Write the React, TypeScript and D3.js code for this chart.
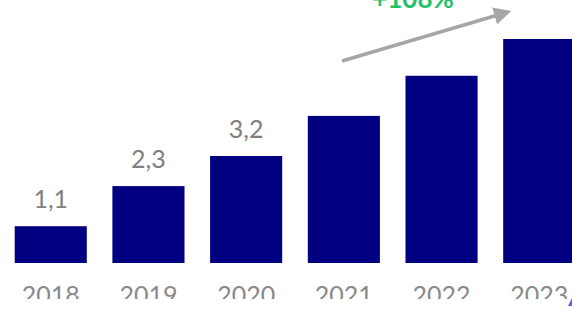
import * as d3 from "d3";
import { useEffect, useRef } from "react";

const years = ["2018", "2019", "2020", "2021", "2022", "2023"];
const values = [1.1, 2.3, 3.2, 4.4, 5.6, 6.7];
const valueLabels = ["1,1", "2,3", "3,2", "", "", ""];
const growthLabel = "+108%";

const W = 572;
const H = 313;

const App = () => {
  const svgRef = useRef(null);

  useEffect(() => {
    const svg = d3.select(svgRef.current);
    svg.selectAll("*").remove();

    const x = d3.scaleBand().domain(years).range([2, 588]).paddingInner(0.262).paddingOuter(0.13);
    const y = d3.scaleLinear().domain([0, 6.7]).range([263, 39]);

    svg.append("defs").append("clipPath").attr("id", "cut")
      .append("rect").attr("x", 0).attr("y", 0).attr("width", W).attr("height", 299);

    svg.append("g").selectAll("rect").data(years).join("rect")
      .attr("x", d => x(d))
      .attr("y", (d, i) => y(values[i]))
      .attr("width", x.bandwidth())
      .attr("height", (d, i) => y(0) - y(values[i]))
      .attr("fill", "#000080");

    svg.append("g").selectAll("text").data(years).join("text")
      .attr("x", d => x(d) + x.bandwidth() / 2)
      .attr("y", (d, i) => y(values[i]) - 18)
      .attr("text-anchor", "middle")
      .attr("font-family", "Lato, sans-serif")
      .attr("font-size", 25)
      .attr("fill", "#808080")
      .text((d, i) => valueLabels[i]);

    svg.append("g").attr("clip-path", "url(#cut)")
      .selectAll("text").data(years).join("text")
      .attr("x", d => x(d) + x.bandwidth() / 2)
      .attr("y", 304)
      .attr("text-anchor", "middle")
      .attr("font-family", "Lato, sans-serif")
      .attr("font-size", 25)
      .attr("fill", "#8a8a8a")
      .text(d => d);

    // growth arrow
    svg.append("defs").append("marker")
      .attr("id", "head").attr("viewBox", "0 0 10 10")
      .attr("refX", 8).attr("refY", 5)
      .attr("markerWidth", 5).attr("markerHeight", 5)
      .attr("orient", "auto")
      .append("path").attr("d", "M0,0 L10,5 L0,10 z").attr("fill", "#a6a6a6");

    svg.append("line")
      .attr("x1", 342).attr("y1", 61)
      .attr("x2", 508).attr("y2", 12)
      .attr("stroke", "#a6a6a6")
      .attr("stroke-width", 3.5)
      .attr("marker-end", "url(#head)");

    svg.append("text")
      .attr("x", 413).attr("y", 8)
      .attr("text-anchor", "middle")
      .attr("font-family", "Lato, sans-serif")
      .attr("font-weight", "bold")
      .attr("font-size", 26)
      .attr("fill", "#1fc16b")
      .text(growthLabel);

    svg.append("path")
      .attr("d", "M568,306 L572,298 L572,306 z")
      .attr("fill", "#6a5acd");
  }, []);

  return (
    <svg ref={svgRef} width={W} height={H}
      style={{ position: "absolute", left: 0, top: 0, background: "#fff" }} />
  );
};

export default App;
